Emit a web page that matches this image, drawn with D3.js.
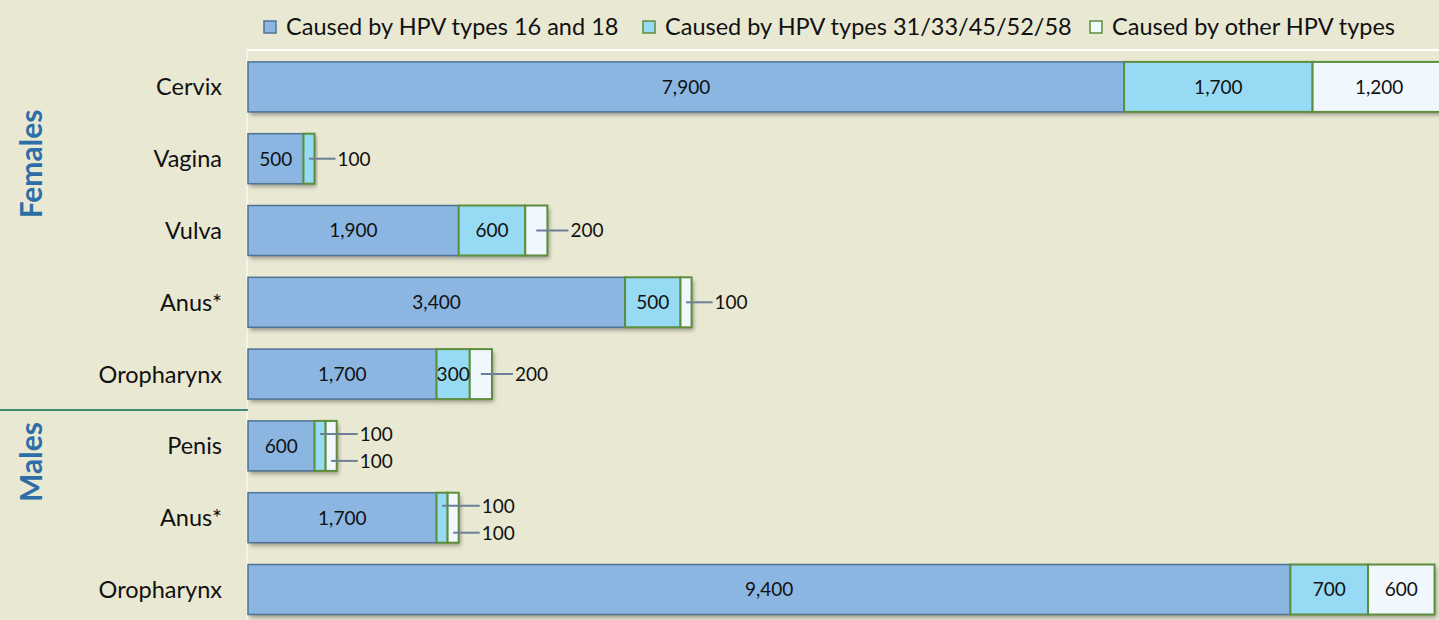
<!DOCTYPE html>
<html><head><meta charset="utf-8">
<script src="https://cdn.jsdelivr.net/npm/d3@7"></script>
<style>
html,body{margin:0;padding:0;background:#e9e8d3;}
svg{display:block;font-family:Lato,"Open Sans",sans-serif;}
</style></head>
<body>
<svg id="chart" width="1439" height="620"></svg>
<script>
const categories = ["Cervix","Vagina","Vulva","Anus*","Oropharynx","Penis","Anus*","Oropharynx"];
const hpv1618 = [7900,500,1900,3400,1700,600,1700,9400];
const hpv3133 = [1700,100,600,500,300,100,100,700];
const hpvOther = [1200,0,200,100,200,100,100,600];
const seriesNames = ["Caused by HPV types 16 and 18","Caused by HPV types 31/33/45/52/58","Caused by other HPV types"];
const groups = [{name:"Females", from:0, to:4},{name:"Males", from:5, to:7}];

const fills = ["#8cb6e2","#97daf3","#f0f7fd"];
const strokes = ["#4f7393","#5e8e3c","#5e8e3c"];

const svg = d3.select("#chart");
const W = 1439, H = 620;
const plotLeft = 248, plotTop = 50;

const defs = svg.append("defs");
const f = defs.append("filter").attr("id","sh").attr("x","-5%").attr("y","-20%").attr("width","110%").attr("height","160%");
f.append("feDropShadow").attr("dx",2).attr("dy",3).attr("stdDeviation",2).attr("flood-color","#000").attr("flood-opacity",0.35);

const x = d3.scaleLinear().domain([0,10740]).range([plotLeft, W]);
const idx = d3.range(categories.length);
const y = d3.scaleBand().domain(idx).range([plotTop+1, plotTop+1+71.8*8]).paddingInner(0.304).paddingOuter(0.152);

// plot area border
svg.append("line").attr("x1",plotLeft-1).attr("x2",W).attr("y1",plotTop).attr("y2",plotTop).attr("stroke","#ffffff").attr("stroke-width",2);
svg.append("line").attr("x1",plotLeft-1).attr("x2",plotLeft-1).attr("y1",plotTop).attr("y2",H).attr("stroke","#f4f4ec").attr("stroke-width",2);

const series = [hpv1618,hpv3133,hpvOther];
const stack = idx.map(i => {
  let acc = 0;
  return series.map((s,k) => { const d = {i, k, v:s[i], x0:acc, x1:acc+s[i]}; acc += s[i]; return d; });
});

const rows = svg.append("g").selectAll("g").data(stack).join("g");
rows.each(function(d){
  const g = d3.select(this);
  g.append("rect").attr("x", x(0)).attr("y", y(d[0].i)).attr("width", x(d[2].x1)-x(0)).attr("height", y.bandwidth())
    .attr("fill","#8a8a70").attr("filter","url(#sh)");
  d.filter(s => s.v>0).forEach(s => {
    g.append("rect").attr("x", x(s.x0)).attr("y", y(s.i)).attr("width", x(s.x1)-x(s.x0)).attr("height", y.bandwidth())
      .attr("fill", fills[s.k]).attr("stroke", strokes[s.k]).attr("stroke-width", s.k===0?1.5:2);
  });
});

// value labels
const fmt = d3.format(",");
const labG = svg.append("g").attr("font-size",19).attr("fill","#111");
stack.forEach(row => {
  const cy = y(row[0].i) + y.bandwidth()/2;
  const end = x(row[2].x1);
  const outside = row.filter(s => s.v>0 && (x(s.x1)-x(s.x0)) < 30);
  row.filter(s => s.v>0 && (x(s.x1)-x(s.x0)) >= 30).forEach(s => {
    labG.append("text").attr("x",(x(s.x0)+x(s.x1))/2).attr("y",cy).attr("dy","0.36em")
      .attr("text-anchor","middle").text(fmt(s.v));
  });
  outside.forEach((s,j) => {
    const n = outside.length;
    const ly = n===1 ? cy : cy + (j===0 ? -12 : 15);
    const mx = (x(s.x0)+x(s.x1))/2;
    const lx = end + 21;
    labG.append("line").attr("x1",mx).attr("x2",lx).attr("y1",ly).attr("y2",ly)
      .attr("stroke","#6c7f96").attr("stroke-width",2);
    labG.append("text").attr("x",lx+2).attr("y",ly).attr("dy","0.36em").text(fmt(s.v));
  });
});

// category labels
svg.append("g").selectAll("text").data(idx).join("text")
  .attr("x", 222).attr("y", i => y(i)+y.bandwidth()/2).attr("dy","0.36em")
  .attr("text-anchor","end").attr("font-size",23.5).attr("fill","#111").text(i => categories[i]);

// group labels
groups.forEach(g => {
  const yy = g.name==="Females" ? 164 : 462;
  svg.append("text").attr("transform",`translate(42,${yy}) rotate(-90)`)
    .attr("text-anchor","middle").attr("font-size",30).attr("font-weight","bold").attr("fill","#2e6ea6").text(g.name);
});
// separator
const sepY = (y(4)+y.bandwidth() + y(5))/2;
svg.append("line").attr("x1",0).attr("x2",plotLeft).attr("y1",sepY).attr("y2",sepY).attr("stroke","#3d8b74").attr("stroke-width",2);

// legend
const legX = [264, 643, 1090];
const leg = svg.append("g");
seriesNames.forEach((n,k) => {
  leg.append("rect").attr("x",legX[k]).attr("y",21).attr("width",12).attr("height",12)
    .attr("fill",fills[k]).attr("stroke",k===0?"#4f7393":"#5e8e3c").attr("stroke-width",1.5);
  leg.append("text").attr("x",legX[k]+22).attr("y",27).attr("dy","0.36em").attr("font-size",23.5).attr("fill","#111").text(n);
});
</script>
</body></html>
